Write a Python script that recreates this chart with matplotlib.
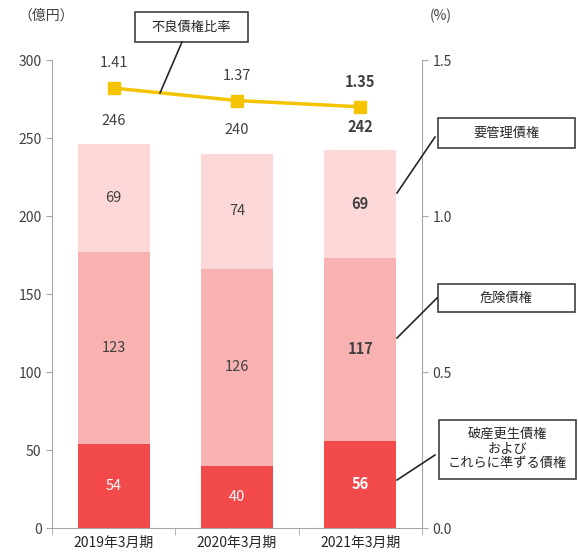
import matplotlib
matplotlib.use("Agg")
import matplotlib.pyplot as plt
from matplotlib.lines import Line2D

plt.rcParams['font.family'] = ['Noto Sans CJK JP', 'DejaVu Sans']

years = ['2019年3月期', '2020年3月期', '2021年3月期']
hasan = [54, 40, 56]      # 破産更生債権およびこれらに準ずる債権
kiken = [123, 126, 117]   # 危険債権
yokanri = [69, 74, 69]    # 要管理債権
totals = [246, 240, 242]
ratio = [1.41, 1.37, 1.35]
bold_last = [False, False, True]

c_bottom = '#f24a4a'
c_mid = '#f8b2b2'
c_top = '#fcd8d8'
txt = '#404040'
axis_col = '#a6a6a6'
fs = 10.5

fig = plt.figure(figsize=(5.78, 5.6), dpi=100)
ax = fig.add_axes([52 / 578, 1 - 528 / 560, 370 / 578, 468 / 560])
ax2 = ax.twinx()

x = list(range(len(years)))
w = 0.585
b2 = hasan
b3 = [a + b for a, b in zip(hasan, kiken)]
ax.bar(x, hasan, w, color=c_bottom, zorder=2)
ax.bar(x, kiken, w, bottom=b2, color=c_mid, zorder=2)
ax.bar(x, yokanri, w, bottom=b3, color=c_top, zorder=2)

for i in x:
    fw = 'bold' if bold_last[i] else 'normal'
    ax.text(i, hasan[i] / 2, str(hasan[i]), ha='center', va='center',
            color='white', fontsize=fs, fontweight=fw)
    ax.text(i, b2[i] + kiken[i] / 2, str(kiken[i]), ha='center', va='center',
            color=txt, fontsize=fs, fontweight=fw)
    ax.text(i, b3[i] + yokanri[i] / 2, str(yokanri[i]), ha='center', va='center',
            color=txt, fontsize=fs, fontweight=fw)
    ax.annotate(str(totals[i]), (i, totals[i]), xytext=(0, 17), textcoords='offset points',
                ha='center', va='center', color=txt, fontsize=fs, fontweight=fw)

ax.set_xlim(-0.5, 2.5)
ax.set_ylim(0, 300)
ax.set_yticks(range(0, 301, 50))
ax2.set_ylim(0, 1.5)
ax2.set_yticks([0, 0.5, 1.0, 1.5])
ax2.set_yticklabels(['0.0', '0.5', '1.0', '1.5'])

ax2.plot(x, ratio, color='#f5c400', lw=2.5, marker='s', ms=8, zorder=5)
for i in x:
    fw = 'bold' if bold_last[i] else 'normal'
    ax2.annotate(f'{ratio[i]:.2f}', (i, ratio[i]), xytext=(0, 18), textcoords='offset points',
                 ha='center', va='center', color=txt, fontsize=fs, fontweight=fw)

for a in (ax, ax2):
    a.spines['top'].set_visible(False)
    for s in ('left', 'right', 'bottom'):
        a.spines[s].set_color(axis_col)
    a.tick_params(axis='y', colors=axis_col, labelcolor=txt, labelsize=10, length=4)
ax.spines['right'].set_visible(False)
ax2.spines['left'].set_visible(False)
ax2.spines['bottom'].set_visible(False)

ax.set_xticks(x)
ax.set_xticklabels(years, fontsize=10, color='#262626')
ax.tick_params(axis='x', length=0, pad=6)
ax.set_xticks([-0.5, 0.5, 1.5, 2.5], minor=True)
ax.tick_params(axis='x', which='minor', length=5, color=axis_col)

fig.text(18 / 578, 1 - 16 / 560, '（億円）', fontsize=10, color=txt, va='center', ha='left')
fig.text(430 / 578, 1 - 16 / 560, '(%)', fontsize=10, color=txt, va='center', ha='left')

# callouts
def callout(label, cx, cy, bw, bh, p0, p1):
    fig.text(cx / 578, 1 - cy / 560, label, ha='center', va='center', fontsize=9.5,
             color='#262626', linespacing=1.15)
    fig.patches.append(plt.Rectangle(((cx - bw / 2) / 578, 1 - (cy + bh / 2) / 560),
                                     bw / 578, bh / 560, transform=fig.transFigure,
                                     fill=False, ec='#404040', lw=1.2))
    fig.lines.append(Line2D([p0[0] / 578, p1[0] / 578], [1 - p0[1] / 560, 1 - p1[1] / 560],
                            transform=fig.transFigure, color='#262626', lw=1.2))

callout('不良債権比率', 191.5, 27, 113, 30, (182, 42), (160, 93))
callout('要管理債権', 506.5, 133, 137, 30, (435, 137), (397, 193))
callout('危険債権', 506.5, 298, 137, 28, (437, 298), (397, 338))
callout('破産更生債権\nおよび\nこれらに準ずる債権', 507.5, 449, 137, 59, (435, 455), (397, 480))

fig.savefig('out.png', dpi=100)
